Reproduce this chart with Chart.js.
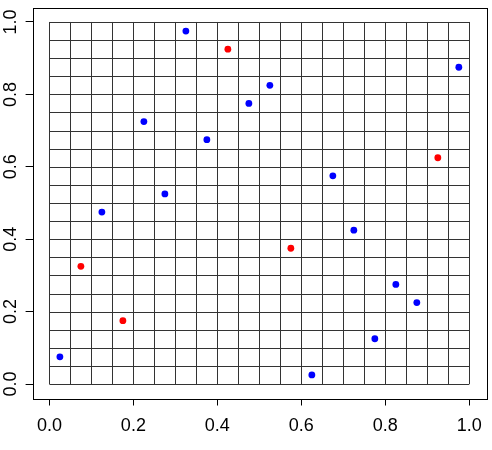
<!DOCTYPE html>
<html>
<head>
<meta charset="utf-8">
<script src="https://cdn.jsdelivr.net/npm/chart.js@4/dist/chart.umd.min.js"></script>
<style>
  html, body { margin: 0; padding: 0; background: #fff; }
  canvas { display: block; }
</style>
</head>
<body>
<canvas id="gridChart" width="492" height="450"></canvas>
<script>
// points sit in the centres of a 20 x 20 grid on [0,1] x [0,1]
const blueX = [0.025, 0.125, 0.225, 0.275, 0.325, 0.375, 0.475, 0.525, 0.625, 0.675, 0.725, 0.775, 0.825, 0.875, 0.975];
const blueY = [0.075, 0.475, 0.725, 0.525, 0.975, 0.675, 0.775, 0.825, 0.025, 0.575, 0.425, 0.125, 0.275, 0.225, 0.875];
const redX = [0.075, 0.175, 0.425, 0.575, 0.925];
const redY = [0.325, 0.175, 0.925, 0.375, 0.625];
const tickValues = [0, 0.2, 0.4, 0.6, 0.8, 1.0];
const gridBreaks = [];
for (let i = 0; i <= 20; i++) gridBreaks.push(i / 20);

const fontFamily = '"Liberation Sans", Arial, Helvetica, sans-serif';

function toPoints(xs, ys) {
    return xs.map((x, i) => ({ x: x, y: ys[i] }));
}

const gridPlugin = {
    id: 'rGrid',
    beforeDatasetsDraw(chart) {
        const ctx = chart.ctx;
        const xs = chart.scales.x, ys = chart.scales.y;
        const x0 = xs.getPixelForValue(0), x1 = xs.getPixelForValue(1);
        const y0 = ys.getPixelForValue(0), y1 = ys.getPixelForValue(1);
        ctx.save();
        ctx.strokeStyle = '#333';
        ctx.lineWidth = 1;
        ctx.beginPath();
        gridBreaks.forEach(v => {
            const px = Math.round(xs.getPixelForValue(v)) + 0.5;
            ctx.moveTo(px, y0);
            ctx.lineTo(px, y1);
            const py = Math.round(ys.getPixelForValue(v)) + 0.5;
            ctx.moveTo(x0, py);
            ctx.lineTo(x1, py);
        });
        ctx.stroke();
        // plot box
        const a = chart.chartArea;
        ctx.strokeStyle = '#000';
        ctx.strokeRect(Math.round(a.left) + 0.5, Math.round(a.top) + 0.5,
            Math.round(a.right - a.left), Math.round(a.bottom - a.top));
        ctx.restore();
    },
    afterDraw(chart) {
        // rotated y labels like R's default las=0
        const ctx = chart.ctx;
        const ys = chart.scales.y;
        ctx.save();
        ctx.fillStyle = '#000';
        ctx.font = '18px ' + fontFamily;
        ctx.textAlign = 'center';
        ctx.textBaseline = 'alphabetic';
        ys.ticks.forEach(t => {
            const py = ys.getPixelForValue(t.value);
            ctx.save();
            ctx.translate(15.5, py);
            ctx.rotate(-Math.PI / 2);
            ctx.fillText(t.value.toFixed(1), 0, 0);
            ctx.restore();
        });
        ctx.restore();
    }
};

new Chart(document.getElementById('gridChart'), {
    type: 'scatter',
    data: {
        datasets: [
            {
                data: toPoints(blueX, blueY),
                backgroundColor: '#0000ff',
                borderWidth: 0,
                pointRadius: 3.4,
                pointHoverRadius: 3.4
            },
            {
                data: toPoints(redX, redY),
                backgroundColor: '#ff0000',
                borderWidth: 0,
                pointRadius: 3.4,
                pointHoverRadius: 3.4
            }
        ]
    },
    options: {
        responsive: false,
        animation: false,
        events: [],
        layout: { padding: { top: 7.5, right: 4.5, left: 0, bottom: 0 } },
        plugins: {
            legend: { display: false },
            tooltip: { enabled: false }
        },
        scales: {
            x: {
                type: 'linear',
                min: -0.04,
                max: 1.04,
                afterFit: s => { s.height = 51.5; },
                afterBuildTicks: s => { s.ticks = tickValues.map(v => ({ value: v })); },
                ticks: {
                    includeBounds: false,
                    color: '#000',
                    padding: 10,
                    font: { family: fontFamily, size: 18 },
                    callback: v => Number(v).toFixed(1)
                },
                grid: { drawOnChartArea: false, drawTicks: true, tickLength: 7, color: '#000' },
                border: { display: false }
            },
            y: {
                type: 'linear',
                min: -0.04,
                max: 1.04,
                afterFit: s => { s.width = 32.6; },
                afterBuildTicks: s => { s.ticks = tickValues.map(v => ({ value: v })); },
                ticks: { display: false, includeBounds: false },
                grid: { drawOnChartArea: false, drawTicks: true, tickLength: 7, color: '#000' },
                border: { display: false }
            }
        }
    },
    plugins: [gridPlugin]
});
</script>
</body>
</html>
